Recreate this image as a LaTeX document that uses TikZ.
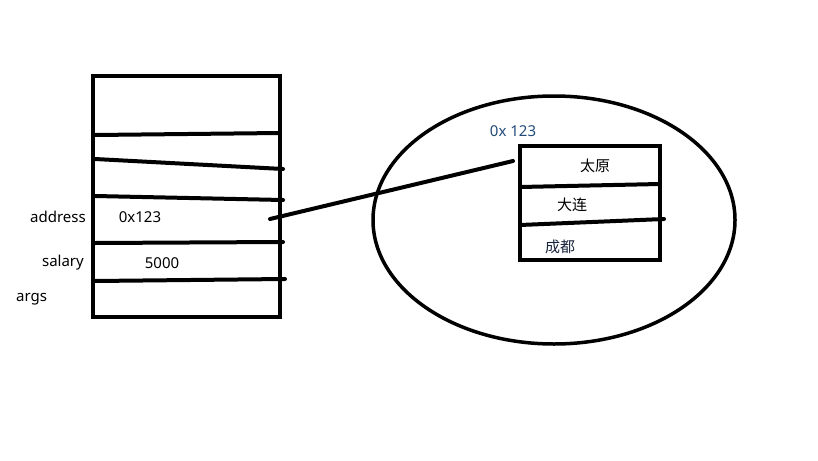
\documentclass[tikz,border=0pt]{standalone}
\usepackage{fontspec}
\setmainfont{Noto Sans}
\newfontfamily\cjk{Noto Sans CJK SC}
\usetikzlibrary{positioning}
\definecolor{addrblue}{RGB}{35, 75, 120}
\definecolor{inkblue}{RGB}{25, 35, 60}

\begin{document}
\begin{tikzpicture}[
      x=1pt, y=-1pt,
      font=\fontsize{15}{17}\selectfont,
      frame/.style={draw, line width=4pt},
      rowline/.style={line width=4pt, line cap=round},
      link/.style={line width=4pt, line cap=round},
      cell/.style={inner sep=0pt}
  ]
  \useasboundingbox (0,0) rectangle (818,460);

  % stack frame
  \draw[frame] (93,76) rectangle (280,317);
  \draw[rowline] (95,135) -- (280,133);
  \draw[rowline] (95,159) -- (283,169);
  \draw[rowline] (95,196) -- (283,200);
  \draw[rowline] (95,243) -- (283,242);
  \draw[rowline] (95,281) -- (285,279);

  \node[cell, anchor=east]  (addr)    at (86,217)  {address};
  \node[cell]               (addrval) at (140,217) {0x123};
  \node[cell, anchor=east]  (sal)     at (84,263)  {salary};
  \node[cell]               (salval)  at (162,263) {5000};
  \node[cell, anchor=west]  (args)    at (16,299)  {args};

  % heap
  \draw[frame, line width=3.5pt] (554,220) ellipse [x radius=181pt, y radius=124pt];
  \draw[frame] (520,146) rectangle (660,260);
  \draw[rowline] (520,187) -- (660,184);
  \draw[rowline] (520,225) -- (664,219);

  \node[cell, text=addrblue] (heapaddr) at (513,131) {0x 123};
  \node[cell] (taiyuan) at (595,166) {\cjk 太原};
  \node[cell] (dalian)  at (572,205) {\cjk 大连};
  \node[cell, text=inkblue] (chengdu) at (560,247) {\cjk 成都};

  % reference
  \coordinate (ptr) at (270,219);
  \coordinate (obj) at (513,161);
  \draw[link] (ptr) -- (obj);
\end{tikzpicture}
\end{document}
